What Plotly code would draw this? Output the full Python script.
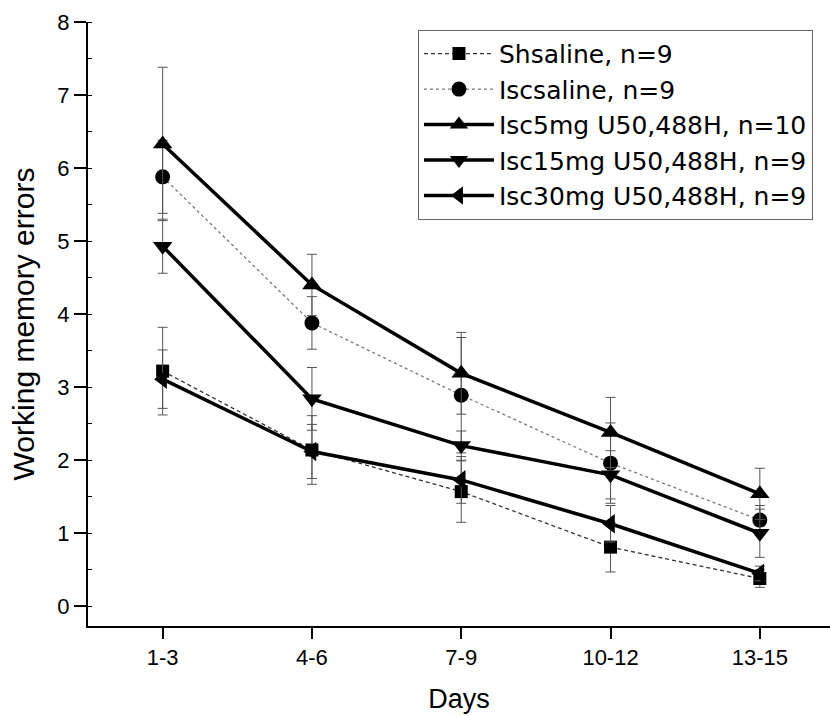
import plotly.graph_objects as go

# Day blocks on the x axis
days = ["1-3", "4-6", "7-9", "10-12", "13-15"]

# Mean working memory errors per group
sh_saline = [3.22, 2.14, 1.57, 0.81, 0.38]
isc_saline = [5.88, 3.88, 2.89, 1.96, 1.18]
isc_5mg = [6.33, 4.40, 3.19, 2.38, 1.54]
isc_15mg = [4.93, 2.84, 2.20, 1.80, 1.00]
isc_30mg = [3.11, 2.12, 1.73, 1.13, 0.45]

# Error bar half-lengths (SEM)
sh_saline_err = [0.60, 0.47, 0.42, 0.34, 0.12]
isc_saline_err = [0.50, 0.36, 0.79, 0.55, 0.20]
isc_5mg_err = [1.05, 0.42, 0.56, 0.48, 0.35]
isc_15mg_err = [0.37, 0.43, 0.20, 0.33, 0.33]
isc_30mg_err = [0.40, 0.37, 0.32, 0.25, 0.10]

names = [
    "Shsaline, n=9",
    "Iscsaline, n=9",
    "Isc5mg U50,488H, n=10",
    "Isc15mg U50,488H, n=9",
    "Isc30mg U50,488H, n=9",
]

FONT = "Liberation Sans, Arial, sans-serif"
WIDE = "DejaVu Sans, Liberation Sans, sans-serif"
x_idx = list(range(len(days)))

series = [
    (sh_saline, sh_saline_err, "square", 13, dict(color="#333", width=1.3, dash="4px,3px")),
    (isc_saline, isc_saline_err, "circle", 15, dict(color="#777", width=1.3, dash="dot")),
    (isc_5mg, isc_5mg_err, "triangle-up", 17, dict(color="black", width=3.5)),
    (isc_15mg, isc_15mg_err, "triangle-down", 17, dict(color="black", width=3.5)),
    (isc_30mg, isc_30mg_err, "triangle-left", 17, dict(color="black", width=3.5)),
]

fig = go.Figure()
for i, (vals, errs, sym, size, line) in enumerate(series):
    fig.add_trace(go.Scatter(
        x=x_idx, y=vals, name=names[i], mode="lines+markers",
        line=line,
        marker=dict(symbol=sym, size=size, color="black"),
        error_y=dict(type="data", array=errs, visible=True,
                     color="#555", thickness=1, width=5),
        legendgroup=f"g{i}",
    ))

fig.update_layout(
    width=830, height=716,
    margin=dict(l=88, r=0, t=22, b=90),
    paper_bgcolor="white", plot_bgcolor="white",
    font=dict(family=FONT, color="black", size=22),
    showlegend=True,
    legend=dict(
        x=0.4447, y=0.987, xanchor="left", yanchor="top",
        bordercolor="#666", borderwidth=1, bgcolor="white",
        font=dict(family=WIDE, size=25, color="black"),
        itemwidth=70,
        tracegroupgap=0,
    ),
    xaxis=dict(
        range=[-0.5, 4.47], tickmode="array", tickvals=x_idx, ticktext=days,
        showline=True, linecolor="black", linewidth=2,
        ticks="outside", ticklen=11, tickwidth=2, tickcolor="black",
        showgrid=False, zeroline=False,
        tickfont=dict(size=22),
        title=dict(text="Days", font=dict(size=27), standoff=20),
    ),
    yaxis=dict(
        range=[-0.27, 8.0], dtick=1, tick0=0,
        showline=True, linecolor="black", linewidth=2,
        ticks="outside", ticklen=12, tickwidth=2, tickcolor="black",
        minor=dict(dtick=0.5, ticks="inside", ticklen=4, tickcolor="black", tickwidth=1),
        showgrid=False, zeroline=False,
        tickfont=dict(size=22),
        title=dict(text="Working memory errors", font=dict(size=30), standoff=14),
    ),
)

fig.write_html("out.html")
